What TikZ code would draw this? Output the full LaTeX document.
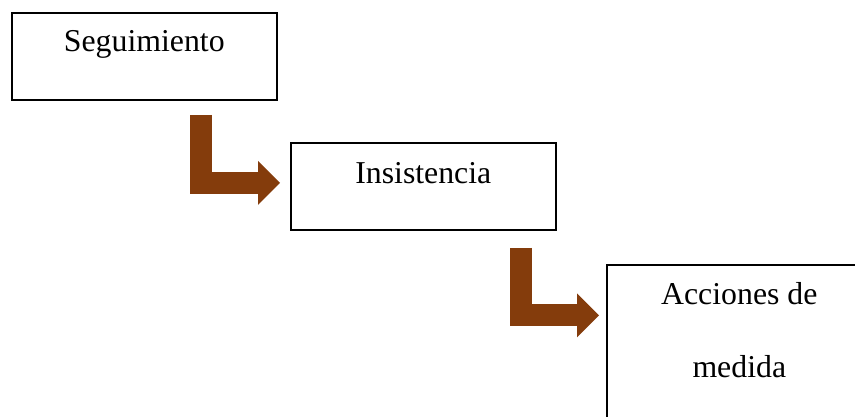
\documentclass[tikz,border=0pt]{standalone}
\usepackage{fontspec}
\setmainfont{Liberation Serif}
\usetikzlibrary{arrows.meta,calc,positioning}
\definecolor{arrowbrown}{RGB}{132,60,12}

\begin{document}
\begin{tikzpicture}[x=1pt, y=-1pt,
    box/.style={rectangle, draw, line width=1.6pt, anchor=north west,
      minimum width=265pt, minimum height=87pt},
    lbl/.style={font=\fontsize{31.8pt}{73pt}\selectfont, align=center},
    bent/.style={draw=arrowbrown, line width=22pt,
      -{Triangle[length=22pt, width=44pt, line width=0pt]}}]
    \useasboundingbox (0,0) rectangle (855,417);
    \clip (0,0) rectangle (855,417);

    \node[box] (seg) at (11,12) {};
    \node[box] (ins) at (290,142) {};
    \node[box, minimum height=166pt] (acc) at (606,264) {};

    \node[lbl] (seg-txt) at ($(seg.north)+(0,32)$) {Seguimiento};
    \node[lbl] (ins-txt) at ($(ins.north)+(0,31)$) {Insistencia};
    \node[lbl] (acc-txt) at ($(acc.north)+(0,66)$) {Acciones de\\medida};

    % bent arrows between the steps
    \coordinate (a1) at (201,115);
    \coordinate (a2) at (520.5,248);
    \draw[bent] (a1) |- ($(ins.west)+(-10,-3.5)$);
    \draw[bent] (a2) |- ($(acc.west)+(-7,-32.5)$);
\end{tikzpicture}
\end{document}
